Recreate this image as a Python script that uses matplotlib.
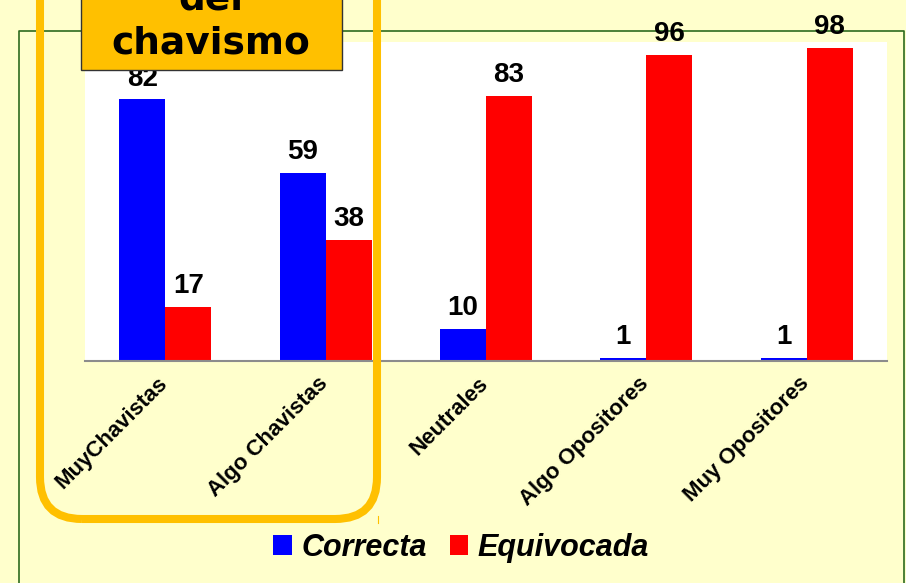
import numpy as np
import matplotlib
matplotlib.use("Agg")
import matplotlib.pyplot as plt
from matplotlib.patches import FancyBboxPatch, Rectangle
from matplotlib.lines import Line2D
from matplotlib.transforms import IdentityTransform, ScaledTranslation

categories = ["MuyChavistas", "Algo Chavistas", "Neutrales", "Algo Opositores", "Muy Opositores"]
correcta = [82, 59, 10, 1, 1]
equivocada = [17, 38, 83, 96, 98]
series_names = ["Correcta", "Equivocada"]
box_lines = ["del", "chavismo"]

W, H = 906, 583
bg = "#FFFFCC"
orange = "#FFC000"
sans = ["Liberation Sans", "DejaVu Sans"]

fig = plt.figure(figsize=(W / 100, H / 100), dpi=100, facecolor=bg)
px = IdentityTransform()


def fy(y):
    # pixel row from top -> display y
    return H - y


# outer green frame
fig.add_artist(Line2D([19, 19, 904, 904], [0, fy(31), fy(31), 0],
                      transform=px, color="#2E6B1E", lw=1.2, zorder=1))

ax = fig.add_axes([85 / W, 222 / H, 802 / W, 319 / H], zorder=2)
ax.set_facecolor("white")

x = np.arange(len(categories))
bw = 0.287
b1 = ax.bar(x - bw / 2, correcta, bw, color="#0000FF", label=series_names[0])
b2 = ax.bar(x + bw / 2, equivocada, bw, color="#FF0000", label=series_names[1])

for bars, vals in ((b1, correcta), (b2, equivocada)):
    for rect, v in zip(bars, vals):
        ax.annotate(str(v), (rect.get_x() + rect.get_width() / 2, v),
                    xytext=(0, 10), textcoords="offset points",
                    ha="center", va="baseline", fontsize=20,
                    fontweight="bold", family=sans)

ax.set_xlim(-0.5, len(categories) - 0.5)
ax.set_ylim(0, 100)
ax.set_yticks([])
ax.set_xticks(x)
ax.set_xticklabels(categories, rotation=45, ha="right", va="top",
                   rotation_mode="anchor", fontsize=16, fontweight="bold",
                   family=sans)
ax.tick_params(axis="x", length=0, pad=10)
shift = ScaledTranslation(-8 / 100, 2 / 100, fig.dpi_scale_trans)
for lab in ax.get_xticklabels():
    lab.set_transform(lab.get_transform() + shift)
for s in ("top", "left", "right"):
    ax.spines[s].set_visible(False)
ax.spines["bottom"].set_color("#8C8C8C")
ax.spines["bottom"].set_linewidth(1.5)

# rounded highlight around the chavista groups
fig.add_artist(FancyBboxPatch((40, fy(519)), 337, 519 + 60,
                              boxstyle="round,pad=0,rounding_size=42",
                              transform=px, fill=False, edgecolor=orange,
                              lw=5.8, zorder=5))
fig.add_artist(Line2D([378, 378], [fy(516), fy(523)], transform=px,
                      color=orange, lw=0.8, zorder=5))

# label box
fig.add_artist(Rectangle((81, fy(70)), 261, 160, transform=px,
                         facecolor=orange, edgecolor="#333333", lw=1, zorder=6))
fig.text(211, fy(53), box_lines[1], transform=px, ha="center", va="baseline",
         fontsize=27, fontweight="bold", family="DejaVu Sans", zorder=7)
fig.text(211, fy(10), box_lines[0], transform=px, ha="center", va="baseline",
         fontsize=27, fontweight="bold", family="DejaVu Sans", zorder=7)

leg = fig.legend(handles=[b1, b2], loc="center", bbox_to_anchor=(461 / W, 1 - 548 / H),
                 ncol=2, frameon=False, handlelength=0.62, handleheight=0.62,
                 handletextpad=0.3, columnspacing=0.75,
                 prop={"family": sans, "weight": "bold", "style": "italic", "size": 22})

fig.savefig("out.png", dpi=100, facecolor=bg)
